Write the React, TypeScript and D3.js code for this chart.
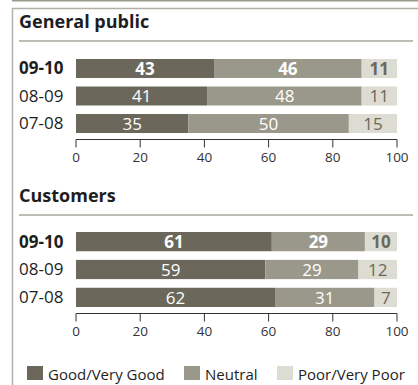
import React from "react";
import * as d3 from "d3";

const periods = ["09-10", "08-09", "07-08"];
const seriesNames = ["Good/Very Good", "Neutral", "Poor/Very Poor"];
const publicGood = [43, 41, 35];
const publicNeutral = [46, 48, 50];
const publicPoor = [11, 11, 15];
const customerGood = [61, 59, 62];
const customerNeutral = [29, 29, 31];
const customerPoor = [10, 12, 7];
const tickValues = [0, 20, 40, 60, 80, 100];

const colors = ["#6b685b", "#9a988b", "#dddcd2"];
const labelColors = ["#ffffff", "#ffffff", "#6b685b"];
const FONT = "'Open Sans', 'Noto Sans', sans-serif";

const W = 418;
const H = 385;

const x = d3.scaleLinear().domain([0, 100]).range([76, 397]);

type PanelProps = {
  title: string;
  titleY: number;
  sepY: number;
  rowRange: [number, number];
  axisY: number;
  series: number[][];
};

function Panel({ title, titleY, sepY, rowRange, axisY, series }: PanelProps) {
  const y = d3.scaleBand<string>().domain(periods).range(rowRange).paddingInner(0.31).paddingOuter(0);
  const stackData = periods.map((p, i) => ({
    period: p,
    s0: series[0][i],
    s1: series[1][i],
    s2: series[2][i],
  }));
  const stacked = d3.stack<any>().keys(["s0", "s1", "s2"])(stackData);
  return (
    <g>
      <text x={19} y={titleY} fontFamily={FONT} fontWeight={700} fontSize={18} fill="#1e1e1e">
        {title}
      </text>
      <line x1={19} x2={413} y1={sepY} y2={sepY} stroke="#a9a79c" strokeWidth={1.5} />
      {periods.map((p, i) => (
        <text
          key={p}
          x={19}
          y={(y(p) as number) + y.bandwidth() / 2}
          dy="0.35em"
          fontFamily={FONT}
          fontSize={17}
          fontWeight={i === 0 ? 700 : 400}
          fill="#1e1e1e"
        >
          {p}
        </text>
      ))}
      {stacked.map((layer, k) => (
        <g key={k}>
          {layer.map((d, i) => {
            const p = periods[i];
            const x0 = x(d[0]);
            const x1 = x(d[1]);
            return (
              <g key={p}>
                <rect x={x0} y={y(p)} width={x1 - x0} height={y.bandwidth()} fill={colors[k]} />
                <text
                  x={(x0 + x1) / 2}
                  y={(y(p) as number) + y.bandwidth() / 2}
                  dy="0.36em"
                  textAnchor="middle"
                  fontFamily={FONT}
                  fontSize={17}
                  fontWeight={i === 0 ? 700 : 400}
                  fill={labelColors[k]}
                >
                  {d[1] - d[0]}
                </text>
              </g>
            );
          })}
        </g>
      ))}
      <line x1={x(0)} x2={x(100)} y1={axisY} y2={axisY} stroke="#333" strokeWidth={1} />
      {tickValues.map((t) => (
        <g key={t}>
          <line x1={x(t)} x2={x(t)} y1={axisY} y2={axisY + 8} stroke="#333" strokeWidth={1} />
          <text
            x={x(t)}
            y={axisY + 22}
            textAnchor="middle"
            fontFamily={FONT}
            fontSize={13.5}
            fill="#333"
          >
            {t}
          </text>
        </g>
      ))}
    </g>
  );
}

export default function App() {
  const legendX = [27, 184, 277];
  return (
    <svg width={W} height={H} style={{ position: "absolute", left: 0, top: 0, background: "#fff" }}>
      <rect x={0} y={0} width={W} height={H} fill="#ffffff" />
      <line x1={12} x2={W} y1={0.75} y2={0.75} stroke="#9c998d" strokeWidth={1.5} />
      <line x1={12} x2={W} y1={8.5} y2={8.5} stroke="#b3b1a7" strokeWidth={1.5} />
      <line x1={12.5} x2={12.5} y1={8} y2={H} stroke="#b3b1a7" strokeWidth={1.5} />
      <Panel
        title="General public"
        titleY={28}
        sepY={41}
        rowRange={[59, 133]}
        axisY={139.5}
        series={[publicGood, publicNeutral, publicPoor]}
      />
      <Panel
        title="Customers"
        titleY={202}
        sepY={215}
        rowRange={[232, 307]}
        axisY={313.5}
        series={[customerGood, customerNeutral, customerPoor]}
      />
      {seriesNames.map((name, k) => (
        <g key={name}>
          <rect x={legendX[k]} y={366} width={16} height={14} fill={colors[k]} />
          <text x={legendX[k] + 21} y={379.5} fontFamily={FONT} fontSize={15} fill="#1e1e1e">
            {name}
          </text>
        </g>
      ))}
    </svg>
  );
}
